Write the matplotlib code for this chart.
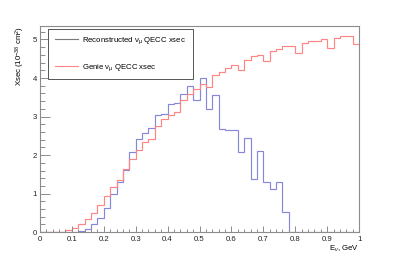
import numpy as np
import matplotlib
matplotlib.use("Agg")
import matplotlib.pyplot as plt
from matplotlib.lines import Line2D
from matplotlib.ticker import MultipleLocator, FuncFormatter

plt.rcParams['font.family'] = ['Liberation Sans', 'DejaVu Sans']
plt.rcParams['mathtext.fontset'] = 'custom'
plt.rcParams['mathtext.rm'] = 'Liberation Sans'
plt.rcParams['mathtext.it'] = 'Liberation Sans:italic'

# 50 bins, 0 - 1 GeV
E_MIN = 0.0
E_MAX = 1.0
N_BINS = 50

# reconstructed nu_mu QECC xsec (1e-38 cm^2) per bin
recon_xsec = [0, 0, 0, 0, 0, 0, 0.02, 0.08, 0.20, 0.38,
              0.64, 0.98, 1.29, 1.61, 2.08, 2.43, 2.57, 2.70, 3.05, 3.07,
              3.33, 3.36, 3.59, 3.79, 3.42, 4.00, 3.20, 3.55, 2.67, 2.66,
              2.66, 2.08, 2.45, 1.39, 2.10, 1.30, 1.13, 1.30, 0.53, 0,
              0, 0, 0, 0, 0, 0, 0, 0, 0, 0]

# genie nu_mu QECC xsec per bin
genie_xsec = [0, 0, 0, 0, 0.05, 0.11, 0.22, 0.33, 0.51, 0.70,
              0.94, 1.17, 1.35, 1.65, 1.90, 2.12, 2.35, 2.42, 2.75, 2.94,
              3.03, 3.12, 3.43, 3.59, 3.72, 3.85, 3.78, 4.07, 4.16, 4.26,
              4.34, 4.22, 4.48, 4.56, 4.61, 4.44, 4.70, 4.76, 4.82, 4.84,
              4.64, 4.90, 4.95, 4.97, 5.00, 4.78, 5.04, 5.08, 5.10, 4.87]

BLUE = '#8686dc'
RED = '#ff8484'
FRAME = '#8c8c8c'


def main():
    edges = np.linspace(E_MIN, E_MAX, N_BINS + 1)

    fig = plt.figure(figsize=(3.99, 2.58), dpi=100)
    ax = fig.add_axes([0.1, 0.1, 0.8, 0.8])

    ax.stairs(recon_xsec, edges, baseline=None, color=BLUE, lw=0.85)
    ax.stairs(genie_xsec, edges, baseline=None, color=RED, lw=0.85)

    ax.set_xlim(E_MIN, E_MAX)
    ax.set_ylim(0, 1.05 * max(genie_xsec))

    # ROOT-ish axes
    ax.xaxis.set_major_locator(MultipleLocator(0.1))
    ax.xaxis.set_minor_locator(MultipleLocator(0.02))
    ax.yaxis.set_major_locator(MultipleLocator(1))
    ax.yaxis.set_minor_locator(MultipleLocator(0.2))
    ax.xaxis.set_major_formatter(FuncFormatter(lambda v, p: f"{v:g}"))
    ax.tick_params(axis='both', which='both', direction='in', color=FRAME,
                   labelsize=5.6, labelcolor='#222222', top=False, right=False)
    ax.tick_params(axis='x', which='major', length=4.5, width=0.7, pad=3)
    ax.tick_params(axis='x', which='minor', length=2.2, width=0.7)
    ax.tick_params(axis='y', which='major', length=6.9, width=0.7, pad=2)
    ax.tick_params(axis='y', which='minor', length=3.4, width=0.7)
    for s in ax.spines.values():
        s.set_color(FRAME)
        s.set_linewidth(0.8)

    ax.set_xlabel(r"E$_{\nu}$, GeV", fontsize=5.6, loc='right')
    ax.xaxis.set_label_coords(1.0, -0.055)
    ax.set_ylabel(r"Xsec (10$^{-38}$ cm$^{2}$)", fontsize=5.6, loc='top')
    ax.yaxis.set_label_coords(-0.04, 1.0)

    handles = [Line2D([], [], color='#7a7a7a', lw=0.8),
               Line2D([], [], color=RED, lw=0.8)]
    labels = [r"Reconstructed $\mathrm{\nu_{\mu}}$ QECC xsec",
              r"Genie $\mathrm{\nu_{\mu}}$ QECC xsec"]
    leg = ax.legend(handles, labels, loc='upper left',
                    bbox_to_anchor=(48 / 399, 1 - 29 / 258),
                    bbox_transform=fig.transFigure,
                    fontsize=5.6, frameon=True, fancybox=False, framealpha=1,
                    edgecolor='#555555', borderpad=0.85, labelspacing=2.0,
                    handlelength=3.0, handletextpad=0.55, borderaxespad=0)
    leg.get_frame().set_linewidth(0.7)

    fig.savefig("out.png", dpi=100)


if __name__ == "__main__":
    main()
